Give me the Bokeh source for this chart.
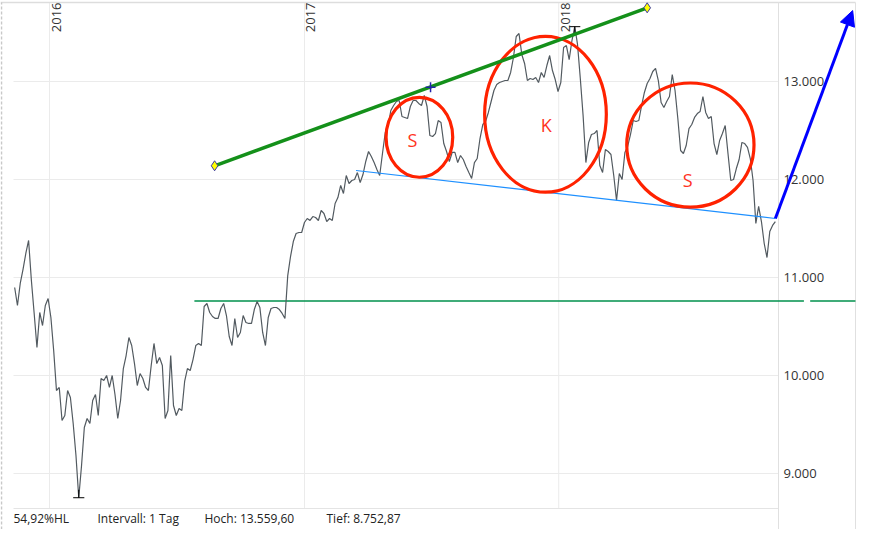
import numpy as np
import pandas as pd
from bokeh.plotting import figure
from bokeh.models import Range1d, Arrow, NormalHead
from bokeh.core.properties import value
from bokeh.embed import file_html
from bokeh.resources import INLINE

# ---------------- data ----------------
start_date = "2015-11-12"          # first close, one reading every 4 calendar days
close = [
    10898, 10714, 10939, 11082, 11245, 11378, 10969, 10633, 10286, 10643,
    10510, 10714, 10786, 10592, 10255, 9847, 9878, 9541, 9592, 9847,
    9776, 9510, 9184, 8752.87, 9082, 9469, 9561, 9510, 9745, 9806,
    9592, 9969, 9949, 10000, 9878, 10000, 9806, 9561, 9745, 10071,
    10204, 10388, 10306, 10122, 9898, 10020, 9969, 9878, 9847, 10102,
    10327, 10122, 10184, 10102, 9561, 9643, 10204, 9694, 9592, 9663,
    9643, 9939, 10071, 10051, 10163, 10306, 10327, 10306, 10704, 10735,
    10643, 10602, 10582, 10582, 10684, 10735, 10612, 10398, 10306, 10582,
    10388, 10439, 10612, 10541, 10531, 10531, 10673, 10755, 10694, 10439,
    10306, 10592, 10684, 10694, 10694, 10673, 10633, 10582, 11020, 11214,
    11367, 11449, 11459, 11459, 11561, 11602, 11582, 11622, 11612, 11582,
    11684, 11653, 11571, 11602, 11582, 11755, 11816, 11939, 11857, 12041,
    11959, 11990, 12000, 12071, 11969, 12051, 12184, 12286, 12235, 12173,
    12102, 12041, 12265, 12480, 12551, 12704, 12755, 12796, 12806, 12643,
    12633, 12622, 12745, 12806, 12806, 12776, 12755, 12857, 12745, 12449,
    12439, 12469, 12602, 12582, 12367, 12286, 12184, 12276, 12276, 12173,
    12245, 12204, 12133, 12071, 12010, 12173, 12214, 12418, 12561, 12592,
    12684, 12796, 12908, 12969, 12990, 13000, 13010, 13010, 13092, 13245,
    13459, 13490, 13276, 13184, 13010, 13031, 13020, 13041, 12990, 13092,
    13041, 13163, 13265, 13112, 13020, 12898, 12990, 13347, 13367, 13224,
    13418, 13559.60, 13378, 13031, 12653, 12173, 12378, 12459, 12469, 12500,
    12143, 12071, 12306, 12286, 12255, 12041, 11786, 12061, 12000, 12276,
    12337, 12459, 12602, 12592, 12602, 12755, 12888, 12980, 13031, 13102,
    13133, 13010, 12786, 12735, 12796, 12847, 13071, 12908, 12622, 12296,
    12265, 12347, 12520, 12561, 12633, 12673, 12694, 12847, 12684, 12622,
    12643, 12367, 12255, 12398, 12469, 12551, 12265, 11990, 12000, 12112,
    12204, 12378, 12367, 12327, 12214, 11990, 11551, 11725, 11571, 11347,
    11204, 11469, 11531, 11571,
]
dates = pd.date_range(start_date, periods=len(close), freq="4D")

y_ticks = [9000, 10000, 11000, 12000, 13000]
y_tick_labels = ["9.000", "10.000", "11.000", "12.000", "13.000"]
year_ticks = ["2016-01-01", "2017-01-01", "2018-01-01"]
year_labels = ["2016", "2017", "2018"]
footer_texts = ["54,92%HL", "Intervall: 1 Tag", "Hoch: 13.559,60", "Tief: 8.752,87"]

# drawn annotations
trend_dates = ["2016-08-25", "2018-05-08"]
trend_prices = [12140, 13752]
trend_cross_date = ["2017-07-01"]
trend_cross_price = [12942]
neck_dates = ["2017-03-16", "2018-11-08"]
neck_prices = [12092, 11602]
support_level = 10760
support_segments = [("2016-07-27", "2018-12-19"), ("2018-12-28", "2019-03-03")]
arrow_dates = ["2018-11-08", "2019-02-27"]
arrow_prices = [11602, 13724]
ellipse_dates = ["2017-06-15", "2017-12-13", "2018-07-09"]
ellipse_prices = [12431, 12665, 12351]
ellipse_width_days = [95.7, 174.7, 182.7]
ellipse_height_pts = [816, 1589, 1267]
shape_labels = ["S", "K", "S"]
shape_label_dates = ["2017-06-05", "2017-12-14", "2018-07-05"]
shape_label_prices = [12398, 12561, 11990]

# ---------------- layout helpers ----------------
T0 = pd.Timestamp("2016-01-01")
PXD = 0.6966            # pixels per day in the reference
W, H = 877, 529


def date_at(px):
    return T0 + pd.Timedelta(days=(px - 49) / PXD)


def price_at(py):
    return 13000 - (py - 81) * 1000 / 98


def ms(t):
    return pd.Timestamp(t).value / 1e6


DAY = 86400000.0
FONT = value("Open Sans")

p = figure(width=W, height=H, output_backend="svg", toolbar_location=None,
           x_range=Range1d(ms(date_at(0)), ms(date_at(W))),
           y_range=Range1d(price_at(H), price_at(0)),
           x_axis_type=None, y_axis_type=None, min_border=0,
           background_fill_color="white", border_fill_color="white",
           outline_line_color=None)

SEP = 508      # footer separator
GRID = "#ebebeb"
# horizontal grid
p.segment(x0=[ms(date_at(13))] * len(y_ticks), x1=[ms(date_at(778))] * len(y_ticks),
          y0=y_ticks, y1=y_ticks, line_color=GRID, line_width=1)
# vertical grid
yx = [ms(d) for d in year_ticks]
p.segment(x0=yx, x1=yx, y0=[price_at(SEP)] * 3, y1=[price_at(2)] * 3,
          line_color=GRID, line_width=1)
# frame lines
p.segment(x0=[ms(date_at(13))], x1=[ms(date_at(778))], y0=[price_at(SEP)], y1=[price_at(SEP)],
          line_color="#e4e4e4", line_width=1)
p.segment(x0=[ms(date_at(0))], x1=[ms(date_at(855))], y0=[price_at(2)], y1=[price_at(2)],
          line_color="#dddddd", line_width=1.5)
p.segment(x0=[ms(date_at(778)), ms(date_at(855))], x1=[ms(date_at(778)), ms(date_at(855))],
          y0=[price_at(H)] * 2, y1=[price_at(2)] * 2, line_color="#e0e0e0", line_width=1)
p.segment(x0=[ms(date_at(1))], x1=[ms(date_at(1))], y0=[price_at(H)], y1=[price_at(2)],
          line_color="#c8c8c8", line_width=1.5, line_dash="3 2")

# support line
p.segment(x0=[ms(a) for a, b in support_segments], x1=[ms(b) for a, b in support_segments],
          y0=[support_level] * 2, y1=[support_level] * 2, line_color="#00904c", line_width=1.3)

# price
xs = [ms(d) for d in dates]
p.line(xs, close, line_color="#525a60", line_width=1.2)

# high / low markers
i_hi = int(np.argmax(close))
i_lo = int(np.argmin(close))
p.segment(x0=[xs[i_hi] - 8 * DAY, xs[i_lo] - 8 * DAY], x1=[xs[i_hi] + 8 * DAY, xs[i_lo] + 8 * DAY],
          y0=[close[i_hi], close[i_lo]], y1=[close[i_hi], close[i_lo]], line_color="black", line_width=1)
p.segment(x0=[xs[i_hi], xs[i_lo]], x1=[xs[i_hi], xs[i_lo]],
          y0=[close[i_hi], close[i_lo]], y1=[close[i_hi] - 80, close[i_lo] + 80],
          line_color="black", line_width=1)

# neckline
p.line([ms(d) for d in neck_dates], neck_prices, line_color="#1e90ff", line_width=1.2)

# ellipses
p.ellipse(x=[ms(d) for d in ellipse_dates], y=ellipse_prices,
          width=[w * DAY for w in ellipse_width_days], height=ellipse_height_pts,
          fill_color=None, line_color="#ff2200", line_width=3.2)
p.text(x=[ms(d) for d in shape_label_dates], y=shape_label_prices, text=shape_labels,
       text_font=FONT, text_font_size="18px", text_color="#ff3322",
       text_align="center", text_baseline="middle")

# trend line
p.line([ms(d) for d in trend_dates], trend_prices, line_color="#14901a", line_width=3.5)
p.scatter([ms(d) for d in trend_dates], trend_prices, marker="diamond", size=10,
          fill_color="#ffff00", line_color="#3a3aa0", line_width=1)
p.scatter([ms(d) for d in trend_cross_date], trend_cross_price, marker="cross", size=10,
          line_color="#2222aa", line_width=1.5)

# arrow
p.add_layout(Arrow(end=NormalHead(size=15, fill_color="#0000ff", line_color="#0000ff", line_width=1),
                   x_start=ms(arrow_dates[0]), y_start=arrow_prices[0],
                   x_end=ms(arrow_dates[1]), y_end=arrow_prices[1],
                   line_color="#0000ff", line_width=3))

# y tick labels
p.text(x=[ms(date_at(783))] * len(y_ticks), y=y_ticks, text=y_tick_labels,
       text_font=FONT, text_font_size="13px", text_color="#333333",
       text_align="left", text_baseline="middle")

# year labels (vertical)
p.text(x=yx, y=[price_at(2)] * 3, text=year_labels, angle=np.pi / 2, x_offset=2,
       text_font=FONT, text_font_size="13px", text_color="#333333",
       text_align="right", text_baseline="top")

# footer
p.text(x=[ms(date_at(px)) for px in (13, 97, 204, 326)], y=[price_at(518)] * 4, text=footer_texts,
       text_font=FONT, text_font_size="12px", text_color="#222222",
       text_align="left", text_baseline="middle")

open("out.html", "w").write(file_html(p, INLINE))
